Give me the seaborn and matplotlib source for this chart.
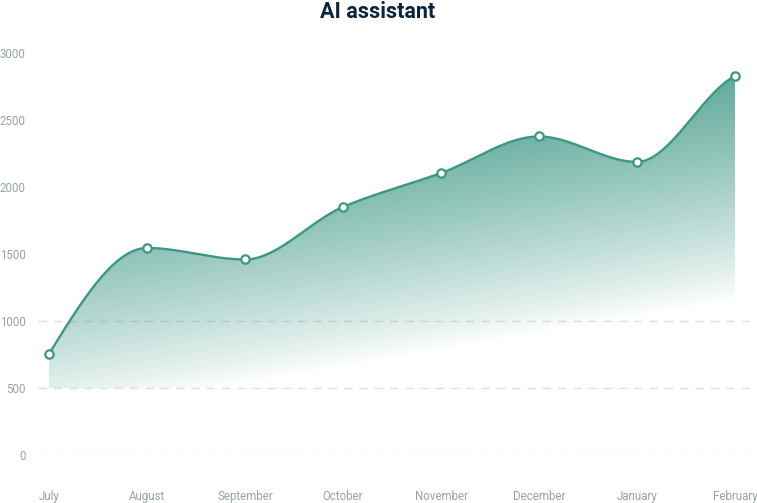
import numpy as np
import pandas as pd
import matplotlib
matplotlib.use("Agg")
import matplotlib.pyplot as plt
import seaborn as sns
from matplotlib.patches import Polygon

# ---- data ----
months = ["July", "August", "September", "October", "November", "December", "January", "February"]
values = [754, 1545, 1459, 1851, 2104, 2377, 2187, 2828]
y_ticks = [0, 500, 1000, 1500, 2000, 2500, 3000]
grid_levels = [0, 500, 1000]
title = "AI assistant"

LINE = "#3a9883"
TICK = "#97a1b0"
TITLE = "#0c2440"

sns.set_theme(style="white")
plt.rcParams["font.family"] = ["Roboto", "DejaVu Sans"]


def smooth_curve(x, y, xs):
    """Monotone cubic Hermite interpolation (Fritsch-Carlson) with softened ends."""
    x = np.asarray(x, float); y = np.asarray(y, float)
    h = np.diff(x); m = np.diff(y) / h
    n = len(x); d = np.zeros(n)
    for i in range(1, n - 1):
        if m[i - 1] * m[i] > 0:
            w1 = 2 * h[i] + h[i - 1]; w2 = h[i] + 2 * h[i - 1]
            d[i] = (w1 + w2) / (w1 / m[i - 1] + w2 / m[i])
    d[0] = (3 * m[0] - d[1]) / 2
    d[-1] = 0.57 * m[-1]
    out = np.empty_like(xs)
    for j, xv in enumerate(xs):
        i = min(max(np.searchsorted(x, xv) - 1, 0), n - 2)
        t = (xv - x[i]) / h[i]
        h00 = 2 * t**3 - 3 * t**2 + 1; h10 = t**3 - 2 * t**2 + t
        h01 = -2 * t**3 + 3 * t**2; h11 = t**3 - t**2
        out[j] = h00 * y[i] + h10 * h[i] * d[i] + h01 * y[i + 1] + h11 * h[i] * d[i + 1]
    return out


xpos = np.arange(len(months))
xs = np.linspace(0, len(months) - 1, 800)
ys = smooth_curve(xpos, values, xs)
df_curve = pd.DataFrame({"x": xs, "y": ys})
df_pts = pd.DataFrame({"x": xpos, "y": values})

fig = plt.figure(figsize=(7.57, 5.03), dpi=100)
ax = fig.add_axes([38 / 757, 48 / 503, 714 / 757, 402 / 503])
ax.set_xlim(-11 / 98, 7 + 17 / 98)
ax.set_ylim(0, 3000)

# dashed grid lines
for g in grid_levels:
    ax.axhline(g, color="#dcdfe3", lw=1.0, ls=(0, (6, 5)), zorder=0)

# gradient fill under curve
base = 500
verts = np.column_stack([np.r_[xs, xs[-1], xs[0]], np.r_[ys, base, base]])
poly = Polygon(verts, closed=True, facecolor="none", edgecolor="none")
ax.add_patch(poly)
gx = np.linspace(0, 7, 400)
gy = np.linspace(base, 3000, 400)
GX, GY = np.meshgrid(gx, gy)
s = np.clip((GY - 284 - 125 * GX) / 1672, 0, 1) ** 0.85
rgba = np.zeros(GX.shape + (4,))
rgba[..., 0] = 58 / 255; rgba[..., 1] = 150 / 255; rgba[..., 2] = 130 / 255
rgba[..., 3] = 0.8 * s
im = ax.imshow(rgba, extent=[0, 7, base, 3000], origin="lower", aspect="auto",
               interpolation="bilinear", zorder=1)
im.set_clip_path(poly)

sns.lineplot(data=df_curve, x="x", y="y", ax=ax, color=LINE, lw=1.7, zorder=3,
             estimator=None, sort=False)
sns.scatterplot(data=df_pts, x="x", y="y", ax=ax, s=36, color="white",
                edgecolor=LINE, linewidth=1.6, zorder=4, clip_on=False)

ax.set_xticks(xpos)
ax.set_xticklabels(months)
ax.set_yticks(y_ticks)
ax.set_yticklabels([str(v) for v in y_ticks])
ax.tick_params(axis="both", length=0, colors=TICK, labelsize=8.3)
ax.tick_params(axis="y", pad=9)
ax.tick_params(axis="x", pad=25)
for lab in ax.get_yticklabels():
    lab.set_horizontalalignment("right")
ax.set_xlabel(""); ax.set_ylabel("")
for sp in ax.spines.values():
    sp.set_visible(False)
ax.grid(False)

fig.text(378 / 757, 1 - 12 / 503, title, ha="center", va="center",
         fontsize=15.5, fontweight="bold", color=TITLE)

fig.savefig("out.png", dpi=100, facecolor="white")
